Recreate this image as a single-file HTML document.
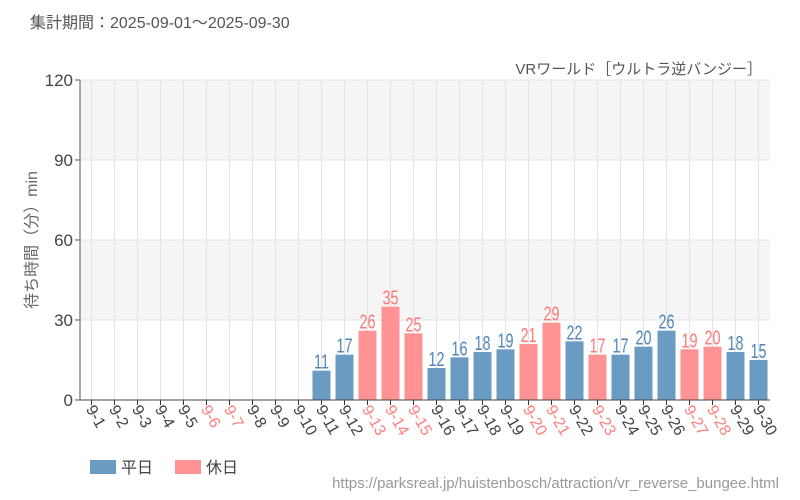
<!DOCTYPE html>
<html><head><meta charset="utf-8"><style>
body{margin:0;background:#fff;}
svg{display:block;font-family:"Liberation Sans","Noto Sans CJK JP",sans-serif;}
</style></head><body>
<svg id="c" width="800" height="500" xmlns="http://www.w3.org/2000/svg"></svg>
<script>
const s=document.getElementById('c');
let h='';
h+='<text x="30" y="28" font-size="16" fill="#555">集計期間：2025-09-01～2025-09-30</text>';
h+='<text x="762" y="74" font-size="15" fill="#555" text-anchor="end">VRワールド［ウルトラ逆バンジー］</text>';
h+='<rect x="80" y="80" width="690" height="80" fill="#f5f5f5"/>';
h+='<rect x="80" y="240" width="690" height="80" fill="#f5f5f5"/>';
[80,160,240,320].forEach(y=>h+=`<line x1="80" x2="770" y1="${y}" y2="${y}" stroke="#e3e3e3"/>`);
for(let i=0;i<30;i++){const x=91.5+i*23;h+=`<line x1="${x}" x2="${x}" y1="80" y2="400" stroke="#e3e3e3"/>`;}
const data={11:11,12:17,13:26,14:35,15:25,16:12,17:16,18:18,19:19,20:21,21:29,22:22,23:17,24:17,25:20,26:26,27:19,28:20,29:18,30:15};
const hol=[6,7,13,14,15,20,21,23,27,28];
for(let d=1;d<=30;d++){
 const cx=80+(d-0.5)*23;const isH=hol.includes(d);
 if(data[d]){const v=data[d];const y=400-v*80/30;
  h+=`<rect x="${cx-9}" y="${y}" width="18" height="${400-y}" fill="${isH?'#ff9393':'#6a9bc3'}"/>`;
  h+=`<text x="${cx}" y="${y-2}" font-size="20" text-anchor="middle" fill="${isH?'#ff7777':'#4f86b8'}" font-family="'Liberation Sans Narrow','Liberation Sans',sans-serif" transform="translate(${cx} 0) scale(0.72 1) translate(${-cx} 0)">${v}</text>`;}
 h+=`<line x1="${cx}" x2="${cx}" y1="400" y2="405" stroke="#333"/>`;
 h+=`<text x="0" y="0" font-size="16" fill="${isH?'#ff8080':'#444'}" transform="translate(${cx-6} 409) rotate(60)">9-${d}</text>`;
}
h+='<line x1="80" x2="80" y1="80" y2="400" stroke="#555"/>';
h+='<line x1="80" x2="770" y1="400" y2="400" stroke="#444"/>';
[[0,400],[30,320],[60,240],[90,160],[120,80]].forEach(([v,y])=>{h+=`<line x1="75" x2="80" y1="${y}" y2="${y}" stroke="#555"/><text x="73" y="${y+6}" font-size="17" text-anchor="end" fill="#444">${v}</text>`;});
h+='<text transform="translate(37 240) rotate(-90)" font-size="16" fill="#666" text-anchor="middle">待ち時間（分）min</text>';
h+='<rect x="90" y="460" width="26" height="14" fill="#6a9bc3"/><text x="121" y="473" font-size="16" fill="#444">平日</text>';
h+='<rect x="175" y="460" width="26" height="14" fill="#ff9393"/><text x="206" y="473" font-size="16" fill="#444">休日</text>';
h+='<text x="779" y="488" font-size="15" fill="#999" text-anchor="end">https://parksreal.jp/huistenbosch/attraction/vr_reverse_bungee.html</text>';
s.innerHTML=h;
</script>
</body></html>
